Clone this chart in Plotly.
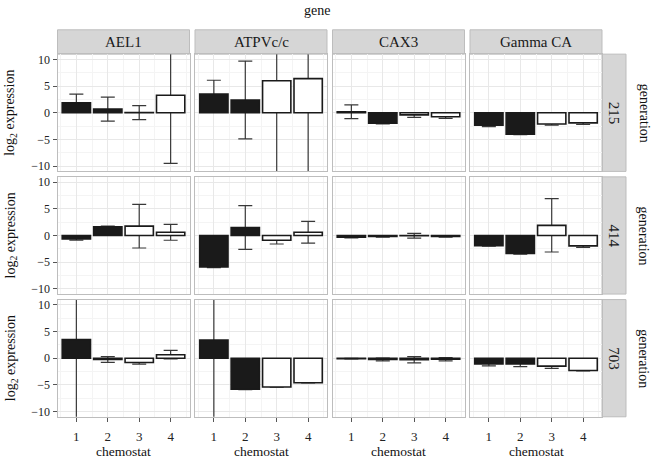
import plotly.graph_objects as go

W, H = 651, 464

genes = ["AEL1", "ATPVc/c", "CAX3", "Gamma CA"]
generations = ["215", "414", "703"]
chemostats = [1, 2, 3, 4]
y_tickvals = [-10, -5, 0, 5, 10]
y_ticktext = ["\u221210", "\u22125", "0", "5", "10"]

# rows: generation 215, 414, 703 ; columns: chemostat 1..4
ael1_mean = [[1.85, 0.7, 0.03, 3.3], [-0.63, 1.65, 1.75, 0.6], [3.5, -0.25, -0.8, 0.65]]
ael1_err = [[1.65, 2.25, 1.3, 12.8], [0.25, 0.12, 4.1, 1.5], [16.0, 0.55, 0.3, 0.8]]
atpv_mean = [[3.5, 2.4, 6.0, 6.4], [-5.9, 1.5, -0.9, 0.6], [3.4, -5.8, -5.4, -4.6]]
atpv_err = [[2.6, 7.3, 18.0, 19.0], [0.12, 4.1, 0.7, 2.05], [16.0, 0.12, 0.05, 0.05]]
cax3_mean = [[0.2, -1.95, -0.4, -0.75], [-0.3, -0.2, -0.05, -0.2], [-0.08, -0.25, -0.3, -0.2]]
cax3_err = [[1.3, 0.15, 0.45, 0.3], [0.15, 0.1, 0.45, 0.1], [0.05, 0.25, 0.6, 0.3]]
gamma_mean = [[-2.35, -4.0, -2.1, -1.9], [-1.9, -3.35, 1.9, -1.95], [-1.1, -1.1, -1.5, -2.3]]
gamma_err = [[0.25, 0.1, 0.2, 0.3], [0.12, 0.15, 5.0, 0.3], [0.35, 0.5, 0.4, 0.1]]

means = [ael1_mean, atpv_mean, cax3_mean, gamma_mean]
errs = [ael1_err, atpv_err, cax3_err, gamma_err]

FONT = "Liberation Serif"
fill_colors = ["#1a1a1a", "#1a1a1a", "#ffffff", "#ffffff"]

col_left = [57.5, 195, 332.5, 470]
panel_w = 132
row_top = [53.5, 177, 300.5]
panel_h = 118


def px(x):
    return x / W


def py(y):
    return 1 - y / H


def label(text, x, y, size, angle=0, color="#111111"):
    return dict(text=text, xref="paper", yref="paper", x=px(x), y=py(y),
                xanchor="center", yanchor="middle", textangle=angle,
                showarrow=False, font=dict(family=FONT, size=size, color=color))


fig = go.Figure()
layout_axes = {}

for r, gen in enumerate(generations):
    for c, gene in enumerate(genes):
        k = r * 4 + c + 1
        xs = "" if k == 1 else str(k)
        xa, ya = "x" + xs, "y" + xs
        # whiskers (drawn first so bars cover them)
        fig.add_trace(go.Bar(
            x=chemostats, y=means[c][r], width=0.9, xaxis=xa, yaxis=ya,
            marker=dict(color="rgba(0,0,0,0)", line=dict(width=0)),
            error_y=dict(type="data", array=errs[c][r], symmetric=True,
                         color="#383838", thickness=1.2, width=7),
            showlegend=False, hoverinfo="skip"))
        fig.add_trace(go.Bar(
            x=chemostats, y=means[c][r], width=0.9, xaxis=xa, yaxis=ya,
            marker=dict(color=fill_colors, line=dict(color="#1a1a1a", width=1.6)),
            showlegend=False))
        bottom = r == len(generations) - 1
        left = c == 0
        layout_axes["xaxis" + xs] = dict(
            domain=[px(col_left[c]), px(col_left[c] + panel_w)],
            anchor=ya, range=[0.4, 4.6],
            tickvals=chemostats, ticktext=[str(v) for v in chemostats],
            showticklabels=bottom, ticks="outside" if bottom else "",
            ticklen=4, tickcolor="#555555", ticklabelstandoff=4,
            tickfont=dict(family=FONT, size=13, color="#222222"),
            showgrid=True, gridcolor="#e8e8e8", gridwidth=1, zeroline=False,
            minor=dict(tick0=0.5, dtick=1, showgrid=True, gridcolor="#f4f4f4"),
            showline=True, mirror=True, linecolor="#bdbdbd", linewidth=1,
            fixedrange=True)
        layout_axes["yaxis" + xs] = dict(
            domain=[py(row_top[r] + panel_h), py(row_top[r])],
            anchor=xa, range=[-11, 11],
            tickvals=y_tickvals, ticktext=y_ticktext,
            showticklabels=left, ticks="outside" if left else "",
            ticklen=4, tickcolor="#555555",
            tickfont=dict(family=FONT, size=12, color="#222222"),
            showgrid=True, gridcolor="#e8e8e8", gridwidth=1, zeroline=False,
            minor=dict(tick0=-7.5, dtick=5, showgrid=True, gridcolor="#f4f4f4"),
            showline=True, mirror=True, linecolor="#bdbdbd", linewidth=1,
            fixedrange=True)

shapes = []
annotations = []
# top strips
for c, gene in enumerate(genes):
    shapes.append(dict(type="rect", xref="paper", yref="paper",
                       x0=px(col_left[c]), x1=px(col_left[c] + panel_w),
                       y0=py(53.5), y1=py(29),
                       fillcolor="#d6d6d6", line=dict(color="#bdbdbd", width=1), layer="below"))
    annotations.append(label(gene, col_left[c] + panel_w / 2, 41.5, 15, color="#1a1a1a"))
    annotations.append(label("chemostat", col_left[c] + panel_w / 2, 453, 13.5))
# right strips
for r, gen in enumerate(generations):
    yc = row_top[r] + panel_h / 2
    shapes.append(dict(type="rect", xref="paper", yref="paper",
                       x0=px(602), x1=px(626), y0=py(row_top[r] + panel_h), y1=py(row_top[r]),
                       fillcolor="#d6d6d6", line=dict(color="#bdbdbd", width=1), layer="below"))
    annotations.append(label(gen, 614, yc, 15, angle=90, color="#1a1a1a"))
    annotations.append(label("generation", 644, yc, 14, angle=90))
    annotations.append(label("log<sub>2</sub> expression", 11, yc, 14, angle=-90))

annotations.append(label("gene", 316.5, 10, 14))

fig.update_layout(
    width=W, height=H, margin=dict(l=0, r=0, t=0, b=0),
    paper_bgcolor="white", plot_bgcolor="white",
    barmode="overlay", showlegend=False,
    shapes=shapes, annotations=annotations,
    font=dict(family=FONT),
    **layout_axes)

fig.write_html("out.html", config={"displayModeBar": False},
               post_script="document.body.style.margin='0';")
